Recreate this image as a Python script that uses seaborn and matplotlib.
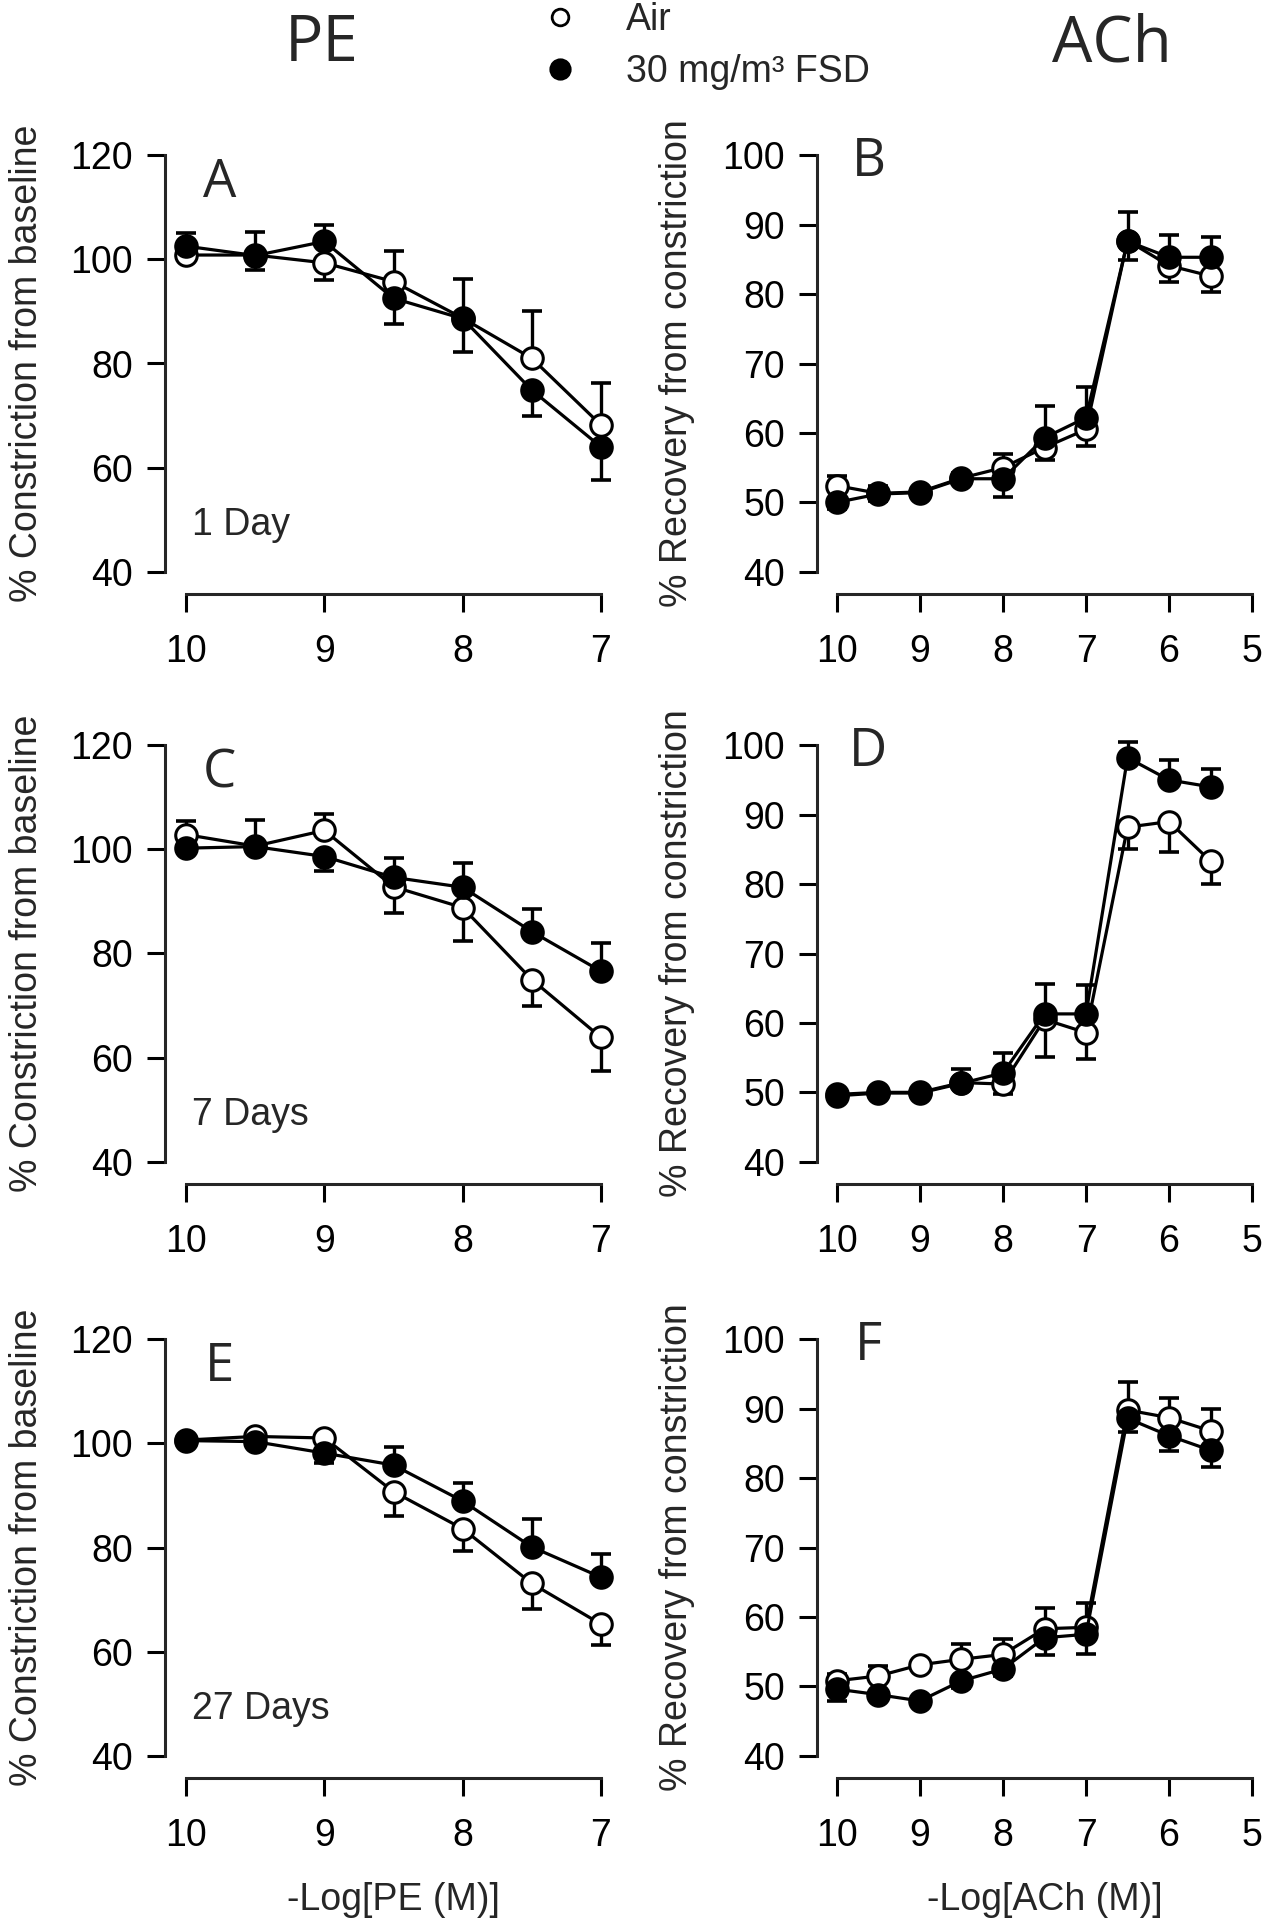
import numpy as np
import matplotlib
matplotlib.use("Agg")
import matplotlib.pyplot as plt
from matplotlib.lines import Line2D
import seaborn as sns

# --------------------- Data ---------------------
pe_dose = [10, 9.5, 9, 8.5, 8, 7.5, 7]
ach_dose = [10, 9.5, 9, 8.5, 8, 7.5, 7, 6.5, 6, 5.5]
pe_ticks = [10, 9, 8, 7]
ach_ticks = [10, 9, 8, 7, 6, 5]
pe_yticks = [40, 60, 80, 100, 120]
ach_yticks = [40, 50, 60, 70, 80, 90, 100]

# A: PE, 1 day
a_air = [100.8, 100.8, 99.3, 95.7, 88.7, 81.0, 68.2]
a_air_se = [1.0, 4.5, 3.2, 5.8, 7.5, 9.1, 8.0]
a_fsd = [102.5, 100.7, 103.4, 92.5, 88.6, 74.9, 64.0]
a_fsd_se = [2.6, 2.7, 3.1, 4.9, 6.4, 5.0, 6.4]

# B: ACh, 1 day
b_air = [52.4, 51.3, 51.5, 53.5, 55.0, 57.9, 60.5, 87.7, 84.1, 82.6]
b_air_se = [1.4, 1.0, 0.5, 0.8, 1.9, 1.8, 2.4, 4.1, 2.3, 2.3]
b_fsd = [50.0, 51.2, 51.4, 53.4, 53.4, 59.3, 62.2, 87.6, 85.3, 85.3]
b_fsd_se = [1.0, 1.0, 0.5, 0.8, 2.7, 4.6, 4.4, 2.7, 3.2, 2.9]

# C: PE, 7 days
c_air = [102.8, 100.6, 103.6, 92.8, 88.8, 75.0, 63.9]
c_air_se = [2.6, 5.0, 3.2, 5.1, 6.4, 5.0, 6.4]
c_fsd = [100.2, 100.5, 98.6, 94.6, 92.7, 84.2, 76.6]
c_fsd_se = [1.0, 1.0, 2.7, 3.7, 4.6, 4.4, 5.5]

# D: ACh, 7 days
d_air = [49.7, 50.0, 50.0, 51.4, 51.2, 60.5, 58.6, 88.2, 89.0, 83.3]
d_air_se = [0.6, 0.6, 0.6, 2.0, 1.5, 5.4, 3.8, 3.1, 4.4, 3.3]
d_fsd = [49.5, 49.9, 49.9, 51.3, 52.8, 61.3, 61.3, 98.2, 95.0, 94.0]
d_fsd_se = [0.6, 0.6, 0.6, 0.6, 2.8, 4.3, 4.2, 2.3, 2.8, 2.6]

# E: PE, 27 days
e_air = [100.6, 101.3, 101.0, 90.7, 83.6, 73.1, 65.3]
e_air_se = [0.6, 0.6, 0.6, 4.7, 4.2, 4.8, 4.0]
e_fsd = [100.5, 100.3, 98.1, 95.8, 88.9, 80.1, 74.3]
e_fsd_se = [0.6, 0.6, 1.9, 3.4, 3.4, 5.4, 4.4]

# F: ACh, 27 days
f_air = [50.8, 51.5, 53.1, 53.9, 54.6, 58.3, 58.5, 89.8, 88.7, 86.8]
f_air_se = [1.0, 1.5, 0.6, 2.2, 2.2, 3.0, 3.5, 4.1, 2.8, 3.2]
f_fsd = [49.6, 48.8, 47.9, 50.8, 52.5, 57.0, 57.5, 88.6, 86.1, 84.0]
f_fsd_se = [1.7, 0.6, 0.6, 1.0, 1.0, 2.5, 2.8, 1.9, 2.2, 2.4]

# --------------------- Style ---------------------
sns.set_theme(style="ticks")
plt.rcParams["font.family"] = ["Liberation Sans", "DejaVu Sans"]
plt.rcParams["axes.linewidth"] = 2.0

FS = 27
W, H = 1273, 1920
fig = plt.figure(figsize=(W / 100, H / 100), dpi=100)


def px_rect(left, top, width, height):
    return [left / W, 1 - (top + height) / H, width / W, height / H]


def draw_panel(ax, dose, air, air_se, fsd, fsd_se):
    air = np.array(air)
    fsd = np.array(fsd)
    air_up = air >= fsd
    # one-sided SE bars: upper series up, lower series down
    for vals, se, up in [(air, air_se, air_up), (fsd, fsd_se, ~air_up)]:
        se = np.array(se)
        yerr = [np.where(up, 0, se), np.where(up, se, 0)]
        ax.errorbar(dose, vals, yerr=yerr, fmt="none", ecolor="black",
                    elinewidth=2.4, capsize=7.5, capthick=2.6, zorder=1)
    for vals, face, z in [(air, "white", 2), (fsd, "black", 3)]:
        sns.lineplot(x=dose, y=vals, ax=ax, color="black", lw=2.3,
                     marker="o", markersize=15.5, markerfacecolor=face,
                     markeredgecolor="black", markeredgewidth=2.2,
                     errorbar=None, zorder=z, clip_on=False)


def style_axes(ax, xticks, yticks, xlim, ylim):
    ax.set_xlim(*xlim)
    ax.set_ylim(*ylim)
    ax.set_xticks(xticks)
    ax.set_yticks(yticks)
    ax.set_xticklabels([str(t) for t in xticks])
    ax.set_yticklabels([str(t) for t in yticks])
    sns.despine(ax=ax)
    ax.spines["left"].set_bounds(yticks[0], yticks[-1])
    ax.spines["bottom"].set_bounds(xticks[0], xticks[-1])
    for s in ["left", "bottom"]:
        ax.spines[s].set_linewidth(2.2)
    ax.tick_params(axis="both", length=13, width=2.2, labelsize=FS, colors="black")
    ax.tick_params(axis="y", pad=10)
    ax.tick_params(axis="x", pad=16)
    ax.set_xlabel("")
    ax.set_ylabel("")


row_tops = [133, 723, 1317]
panel_h = 461

left_panels = [
    ("A", "1 Day", a_air, a_air_se, a_fsd, a_fsd_se),
    ("C", "7 Days", c_air, c_air_se, c_fsd, c_fsd_se),
    ("E", "27 Days", e_air, e_air_se, e_fsd, e_fsd_se),
]
right_panels = [
    ("B", b_air, b_air_se, b_fsd, b_fsd_se),
    ("D", d_air, d_air_se, d_fsd, d_fsd_se),
    ("F", f_air, f_air_se, f_fsd, f_fsd_se),
]

for i, (letter, day, air, air_se, fsd, fsd_se) in enumerate(left_panels):
    ax = fig.add_axes(px_rect(165, row_tops[i], 457, panel_h))
    draw_panel(ax, pe_dose, air, air_se, fsd, fsd_se)
    style_axes(ax, pe_ticks, pe_yticks, (10.152, 6.848), (35.8, 124.2))
    ax.text(9.76, 114.5, letter, fontsize=38, family="Open Sans", ha="center", va="center")
    ax.text(9.96, 49, day, fontsize=FS, ha="left", va="center")
    ax.set_ylabel("% Constriction from baseline", fontsize=FS)
    ax.yaxis.set_label_coords(-0.262, 0.5)
    if i == 2:
        ax.set_xlabel("-Log[PE (M)]", fontsize=FS)
        ax.xaxis.set_label_coords(0.5, -0.225)

for i, (letter, air, air_se, fsd, fsd_se) in enumerate(right_panels):
    ax = fig.add_axes(px_rect(817, row_tops[i], 455, panel_h))
    draw_panel(ax, ach_dose, air, air_se, fsd, fsd_se)
    style_axes(ax, ach_ticks, ach_yticks, (10.24, 4.76), (36.8, 103.2))
    ax.text(9.62, 99, letter, fontsize=38, family="Open Sans", ha="center", va="center")
    ax.set_ylabel("% Recovery from constriction", fontsize=FS)
    ax.yaxis.set_label_coords(-0.268, 0.5)
    if i == 2:
        ax.set_xlabel("-Log[ACh (M)]", fontsize=FS)
        ax.xaxis.set_label_coords(0.5, -0.225)

# column titles
fig.text(322 / W, 1 - 44 / H, "PE", fontsize=46, family="Open Sans", ha="center", va="center")
fig.text(1112 / W, 1 - 44 / H, "ACh", fontsize=46, family="Open Sans", ha="center", va="center")

# legend
handles = [
    Line2D([], [], ls="none", marker="o", ms=12, mfc="white", mec="black", mew=2.0),
    Line2D([], [], ls="none", marker="o", ms=14, mfc="black", mec="black", mew=2.0),
]
fig.legend(handles, ["Air", "30 mg/m³ FSD"], loc="upper left",
           bbox_to_anchor=(543 / W, 1 - 2 / H), frameon=False, fontsize=FS,
           handlelength=0.9, handletextpad=1.3, labelspacing=0.42,
           borderpad=0, borderaxespad=0)

fig.savefig("out.png", dpi=100, facecolor="white")
